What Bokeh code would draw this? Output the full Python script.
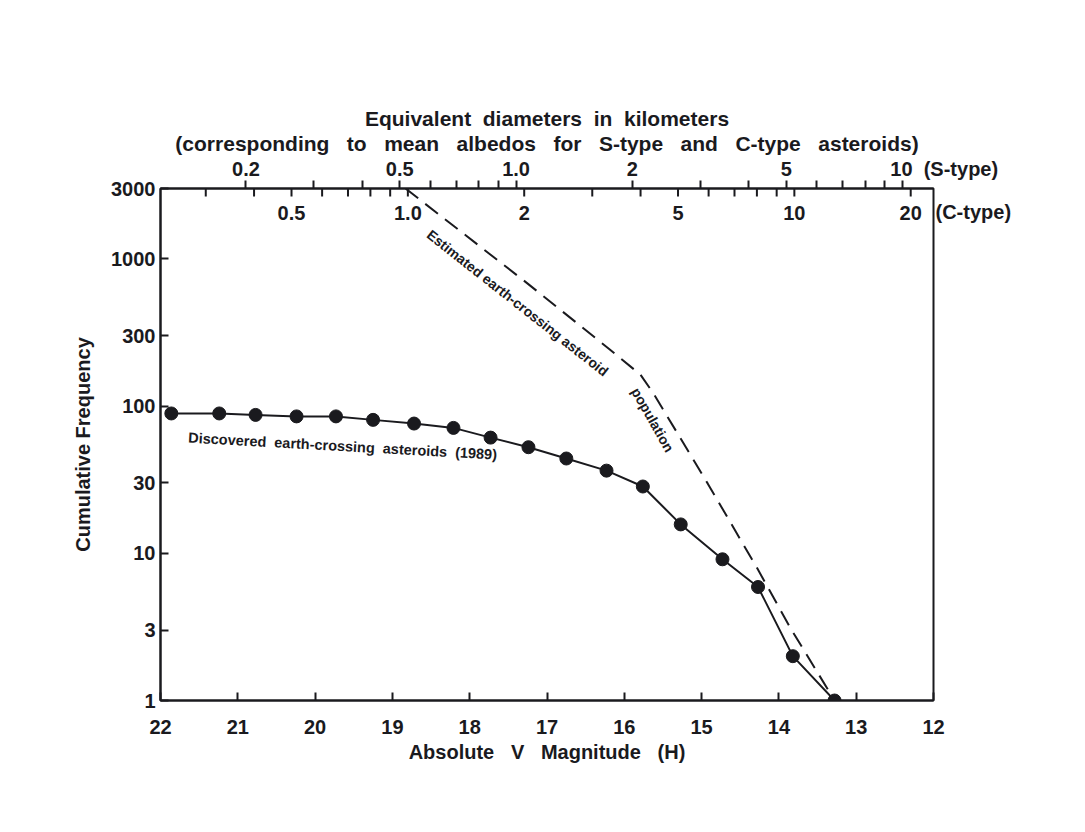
import math
from bokeh.plotting import figure
from bokeh.models import (Range1d, LinearAxis, LogAxis, FixedTicker, CustomJSTickFormatter,
                          NumeralTickFormatter, Title)
from bokeh.core.properties import value
from bokeh.embed import file_html
from bokeh.resources import INLINE

# ---------------- data ----------------
# Discovered earth-crossing asteroids (1989): absolute magnitude H, cumulative count
disc_H = [21.86, 21.24, 20.77, 20.24, 19.73, 19.25, 18.72, 18.21, 17.73,
          17.24, 16.75, 16.23, 15.76, 15.27, 14.73, 14.27, 13.82, 13.28]
disc_N = [89, 89, 87, 85, 85, 80.5, 76, 71, 61,
          52.5, 44, 36.4, 28.4, 15.7, 9.1, 5.9, 2.0, 1.0]

# Estimated earth-crossing asteroid population (dashed curve)
est_H = [18.83, 17.25, 16.20, 15.79, 15.62, 14.92, 14.28, 13.85, 13.28]
est_N = [3000, 678, 245, 163, 121, 29.7, 7.9, 3.1, 1.0]

# bottom / left axes
H_ticks = [12, 13, 14, 15, 16, 17, 18, 19, 20, 21, 22]
N_ticks = [1, 3, 10, 30, 100, 300, 1000, 3000]

# top diameter scales (km)
S_major = [0.2, 0.5, 1.0, 2, 5, 10]
S_labels = ["0.2", "0.5", "1.0", "2", "5", "10"]
S_minor = [0.3, 0.4, 0.6, 0.7, 0.8, 0.9, 3, 4, 6, 7, 8, 9]
C_major = [0.5, 1.0, 2, 5, 10, 20]
C_labels = ["0.5", "1.0", "2", "5", "10", "20"]
C_minor = [0.3, 0.4, 0.6, 0.7, 0.8, 0.9, 3, 4, 6, 7, 8, 9]
S_name = "(S-type)"
C_name = "(C-type)"
H_at_1km_S = 17.40
H_at_1km_C = 18.80   # H of a 1 km C-type asteroid

def h_of(d, h1):
    return h1 - 5.0 * math.log10(d)

S_major_H = [h_of(d, H_at_1km_S) for d in S_major]
S_minor_H = [h_of(d, H_at_1km_S) for d in S_minor]
C_major_H = [h_of(d, H_at_1km_C) for d in C_major]
C_minor_H = [h_of(d, H_at_1km_C) for d in C_minor]

# ---------------- style ----------------
FONT = "Liberation Sans"
INK = "#1a1a1e"
TICK_FS = "20px"
LAB_FS = "20px"
TITLE_FS = "21px"
NB = "\u00a0"

def spaced(s, n):
    return s.replace(" ", " " + NB * n)

p = figure(width=1077, height=824, x_range=Range1d(22, 12), y_range=Range1d(1, 3000),
           y_axis_type="log", output_backend="svg", toolbar_location=None, title=None,
           min_border_left=160, min_border_right=144, min_border_top=188,
           min_border_bottom=124)
p.background_fill_color = "white"
p.border_fill_color = "white"
p.outline_line_color = INK
p.outline_line_width = 2
p.xgrid.visible = False
p.ygrid.visible = False

def style_axis(ax):
    ax.axis_line_color = INK
    ax.axis_line_width = 2
    ax.major_tick_line_color = INK
    ax.major_tick_line_width = 2
    ax.minor_tick_line_color = INK
    ax.minor_tick_line_width = 2
    ax.major_label_text_font = FONT
    ax.major_label_text_font_size = TICK_FS
    ax.major_label_text_font_style = "bold"
    ax.major_label_text_color = INK
    ax.axis_label_text_font = FONT
    ax.axis_label_text_font_size = LAB_FS
    ax.axis_label_text_font_style = "bold"
    ax.axis_label_text_color = INK

xa = p.xaxis[0]
style_axis(xa)
xa.ticker = FixedTicker(ticks=H_ticks)
xa.major_tick_in = 8
xa.major_tick_out = 0
xa.minor_tick_line_color = None
xa.major_label_standoff = 19
xa.axis_label = spaced("Absolute V Magnitude (H)", 2)
xa.axis_label_standoff = 4

ya = p.yaxis[0]
style_axis(ya)
ya.ticker = FixedTicker(ticks=N_ticks)
ya.formatter = NumeralTickFormatter(format="0")
ya.major_tick_in = 8
ya.major_tick_out = 0
ya.minor_tick_line_color = None
ya.major_label_standoff = 5
ya.axis_label = "Cumulative Frequency"
ya.axis_label_standoff = 14

# top S-type diameter axis; the last label also carries the scale name,
# padded on the left so that the number stays centred on its tick
fmt = CustomJSTickFormatter(args=dict(hs=S_major_H, labs=S_labels, name=S_name, nb=NB), code="""
for (let i = 0; i < hs.length; i++) {
  if (Math.abs(hs[i] - tick) < 1e-6) {
    if (i == hs.length - 1) return nb.repeat(15) + labs[i] + nb.repeat(2) + name;
    return labs[i];
  }
}
return "";
""")
ta = LinearAxis(ticker=FixedTicker(ticks=S_major_H, minor_ticks=S_minor_H), formatter=fmt)
style_axis(ta)
ta.major_tick_in = 0
ta.major_tick_out = 8
ta.minor_tick_in = 0
ta.minor_tick_out = 8
ta.major_label_standoff = 1
p.add_layout(ta, "above")

p.add_layout(Title(text=spaced("(corresponding to mean albedos for S-type and C-type asteroids)", 2),
                   align="center", text_font=FONT, text_font_size=TITLE_FS,
                   text_font_style="bold", text_color=INK, standoff=0), "above")
p.add_layout(Title(text=spaced("Equivalent diameters in kilometers", 1),
                   align="center", text_font=FONT, text_font_size=TITLE_FS,
                   text_font_style="bold", text_color=INK, standoff=0), "above")

# C-type scale drawn inside the top of the frame
p.ray(x=C_major_H + C_minor_H, y=[3000] * (len(C_major_H) + len(C_minor_H)),
      length=8, length_units="screen", angle=-math.pi / 2, line_color=INK, line_width=2)
p.text(x=C_major_H, y=[3000] * len(C_major_H), text=C_labels, text_align="center",
       text_baseline="middle", y_offset=24, text_font=value(FONT), text_font_size=TICK_FS,
       text_font_style="bold", text_color=INK)

# "(C-type)" name to the right of the frame, level with the C-type labels
c_name_y = 3000 / 10 ** (24 / 147.3)
ra = LogAxis(ticker=FixedTicker(ticks=[c_name_y]),
             formatter=CustomJSTickFormatter(args=dict(name=C_name), code="return name;"))
style_axis(ra)
ra.axis_line_color = None
ra.major_tick_line_color = None
ra.minor_tick_line_color = None
ra.major_label_standoff = -4
p.add_layout(ra, "right")

# curves
p.line(est_H, est_N, line_color=INK, line_width=2, line_dash="16 9")
p.line(disc_H, disc_N, line_color=INK, line_width=2)
p.scatter(disc_H, disc_N, size=13, fill_color=INK, line_color=INK)

# in-plot captions
cap = dict(text_font=value(FONT), text_font_style="bold",
           text_color=INK, text_baseline="middle")
p.text(x=[21.64], y=[61], text=[spaced("Discovered earth-crossing asteroids (1989)", 1)],
       angle=-0.055, text_font_size="14.5px", **cap)
p.text(x=[18.53], y=[1500], text=["Estimated earth-crossing asteroid"],
       angle=-0.668, text_font_size="14px", **cap)
p.text(x=[15.86], y=[131], text=["population"], angle=-1.055, text_font_size="14px", **cap)

open("out.html", "w").write(file_html(p, INLINE))
